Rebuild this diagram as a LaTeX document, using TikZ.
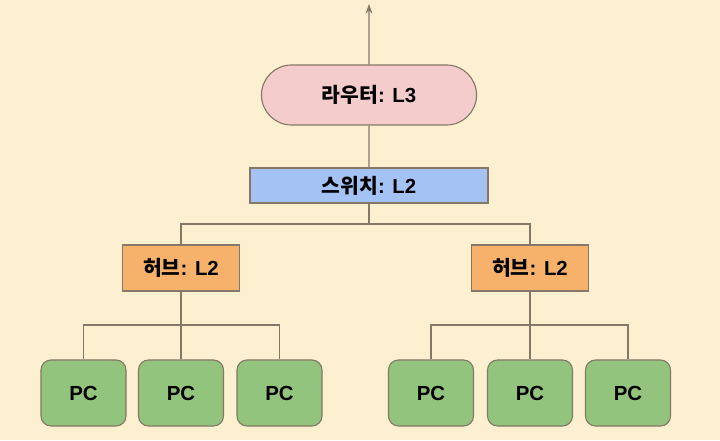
\documentclass[tikz,border=0pt]{standalone}
\usepackage{fontspec}
\setmainfont{Liberation Sans}
\newfontfamily\kr{Noto Sans CJK KR}
\usetikzlibrary{shapes.misc,arrows.meta}

\definecolor{bgcream}{HTML}{FDF0D0}
\definecolor{wire}{HTML}{857867}
\definecolor{routerfill}{HTML}{F4CCCC}
\definecolor{switchfill}{HTML}{A4C2F4}
\definecolor{hubfill}{HTML}{F6B26B}
\definecolor{pcfill}{HTML}{93C47D}

\tikzset{
	box/.style={draw=wire, line width=0.8pt, inner sep=0pt, font=\fontsize{14.5}{16}\selectfont\bfseries},
	router/.style={box, rounded rectangle, fill=routerfill, minimum width=5.375cm, minimum height=1.5cm},
	switchbox/.style={box, rectangle, fill=switchfill, minimum width=5.95cm, minimum height=0.875cm},
	hub/.style={box, rectangle, fill=hubfill, minimum width=2.925cm, minimum height=1.15cm},
	pc/.style={box, rectangle, rounded corners=0.25cm, fill=pcfill, minimum width=2.125cm, minimum height=1.65cm},
	wireline/.style={draw=wire, line width=0.8pt}
}

\begin{document}
\begin{tikzpicture}[x=0.025cm, y=-0.025cm]
		\fill[bgcream] (0, 0) rectangle (720, 440);
		\useasboundingbox (0, 0) rectangle (720, 440);

		% core
		\coordinate (uplink) at (369, 4);
		\node[router] (router) at (369, 95) {{\kr 라우터}: L3};
		\node[switchbox] (switch) at (369, 185.5) {{\kr 스위치}: L2};
		\draw[wireline, -{Stealth[length=0.24cm, width=0.17cm]}] (router) -- (uplink);
		\draw[wireline] (router) -- (switch);

		% hubs
		\node[hub] (hubL) at (181, 268) {{\kr 허브}: L2};
		\node[hub] (hubR) at (530, 268) {{\kr 허브}: L2};
		\coordinate (split) at (369, 224);
		\draw[wireline] (switch) -- (split);
		\draw[wireline] (hubL) |- (split) -| (hubR);

		% pcs
		\foreach \hub/\xa/\xb/\xc in {hubL/83.5/181/279.5, hubR/431/530/628}
		{
			\node[pc] (\hub pc1) at (\xa, 393) {PC};
			\node[pc] (\hub pc2) at (\xb, 393) {PC};
			\node[pc] (\hub pc3) at (\xc, 393) {PC};
			\coordinate (\hub split) at (\xb, 325);
			\draw[wireline] (\hub) -- (\hub split);
			\draw[wireline] (\hub pc1) |- (\hub split) -| (\hub pc3);
			\draw[wireline] (\hub split) -- (\hub pc2);
		}
	\end{tikzpicture}
\end{document}
